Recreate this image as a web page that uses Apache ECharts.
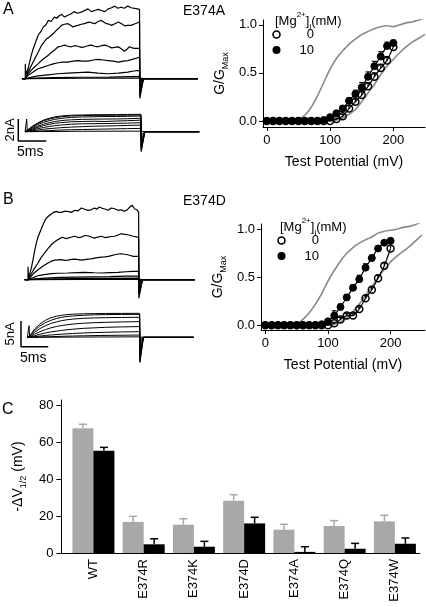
<!DOCTYPE html>
<html><head><meta charset="utf-8">
<script src="https://cdn.jsdelivr.net/npm/echarts@6/dist/echarts.min.js"></script>
<style>html,body{margin:0;padding:0;background:#fff}#c{width:426px;height:607px}</style>
</head><body><div id="c"></div>
<script>
// ---------- Panel A current traces (t in ms, I in nA) ----------
const A_TOP_1 = [[-0.6,0],[0,0],[0,1.36],[0.1,0.4],[0.5,0.9],[1.0,2.0],[1.4,2.7],[1.9,3.4],[2.3,3.95],[2.8,4.3],[3.2,4.7],[3.7,4.9],[4.1,5.3],[4.6,5.2],[5.2,5.6],[5.6,5.5],[6.1,5.75],[6.5,5.85],[7.0,5.6],[7.5,5.75],[8.2,5.9],[8.7,6.1],[9.3,5.95],[10.0,6.05],[10.6,6.2],[11.2,6.35],[11.8,6.1],[12.4,6.2],[13.0,6.3],[13.6,6.2],[14.2,6.1],[14.8,6.35],[15.4,6.45],[16.0,6.6],[16.5,6.4],[17.1,6.5],[17.7,6.4],[18.3,6.6],[18.9,6.45],[19.5,6.4],[20.0,6.35],[20.4,6.3]];
const A_TOP_2 = [[-0.6,0],[0,0],[0.48,0.6],[1.0,1.1],[1.67,1.8],[2.3,2.4],[2.86,3.0],[3.3,3.3],[3.76,3.6],[4.2,3.75],[4.65,3.95],[5.1,4.15],[5.54,4.4],[6.0,4.6],[6.43,4.85],[7.0,4.95],[7.63,5.0],[8.1,4.85],[8.52,4.7],[9.0,4.8],[9.4,4.85],[10.0,4.95],[10.6,5.0],[11.0,5.1],[11.5,5.15],[12.0,5.05],[12.4,5.0],[13.0,5.2],[13.6,5.3],[14.0,5.15],[14.5,5.0],[15.0,4.95],[15.4,4.85],[16.0,5.0],[16.6,5.15],[17.2,5.0],[17.7,4.8],[18.3,4.85],[18.9,4.85],[19.6,5.0],[20.4,5.15]];
const A_TOP_3 = [[-0.6,0],[0,0],[0.48,0.45],[1.3,0.9],[2.27,1.35],[3.1,1.75],[4.05,2.1],[4.7,2.4],[5.24,2.6],[5.84,2.9],[6.4,2.95],[7.0,3.05],[7.6,2.95],[8.2,2.9],[8.8,3.0],[9.4,2.95],[10.0,2.85],[10.6,2.9],[11.2,3.0],[11.8,3.05],[12.4,2.95],[13.0,2.9],[13.6,3.0],[14.2,3.05],[14.8,2.95],[15.4,2.8],[16.0,2.85],[16.6,2.9],[17.2,2.7],[17.7,2.5],[18.2,2.7],[18.6,2.9],[19.1,2.8],[19.5,2.75],[20.4,2.75]];
const A_TOP_4 = [[-0.6,0],[0,0],[0.48,0.3],[1.4,0.6],[2.27,0.9],[3.2,1.05],[4.05,1.2],[5.0,1.35],[5.84,1.45],[6.7,1.5],[7.6,1.5],[8.5,1.6],[9.4,1.65],[10.3,1.6],[11.2,1.6],[12.1,1.7],[13.0,1.75],[13.9,1.7],[14.8,1.65],[15.7,1.6],[16.6,1.5],[17.5,1.6],[18.3,1.65],[19.4,1.8],[20.4,1.95]];
const A_TOP_5 = [[-0.6,0],[0,0],[1.0,0.12],[2.27,0.25],[4.0,0.35],[5.8,0.45],[7.6,0.5],[9.4,0.55],[11.2,0.6],[13.0,0.5],[14.8,0.45],[16.6,0.5],[18.3,0.6],[19.4,0.7],[20.4,0.75]];
const A_TOP_6 = [[-0.6,0],[0,0],[2.0,0.06],[5.0,0.1],[10.0,0.13],[15.0,0.15],[20.4,0.22]];
const A_TOP_7 = [[-0.6,0],[0,0],[10,0.04],[20.4,0.06]];
const A_TOP_TAIL = [-1.8,-1.5,-1.0,-0.6,-0.3,-0.1,-0.05];

const A_BOT_1 = [[-0.3,0],[0,0],[0,1.15],[0.1,0.15],[0.5,0.3],[1,0.5],[2,0.8],[3,1.05],[4,1.22],[5,1.34],[6,1.42],[7,1.47],[8,1.5],[10,1.52],[12,1.54],[14,1.55],[16,1.55],[18,1.57],[20.4,1.58]];
const A_BOT_2 = [[-0.3,0],[0,0],[0.5,0.25],[1,0.45],[2,0.75],[3,0.98],[4,1.14],[5,1.26],[6,1.34],[7,1.4],[8,1.43],[10,1.46],[12,1.48],[14,1.49],[16,1.5],[18,1.5],[20.4,1.52]];
const A_BOT_3 = [[-0.3,0],[0,0],[0.5,0.2],[1,0.38],[2,0.65],[3,0.85],[4,1.0],[5,1.12],[6,1.2],[7,1.26],[8,1.3],[10,1.34],[12,1.36],[14,1.38],[16,1.38],[18,1.4],[20.4,1.42]];
const A_BOT_4 = [[-0.3,0],[0,0],[0.5,0.15],[1,0.3],[2,0.5],[3,0.68],[4,0.82],[5,0.92],[6,1.0],[7,1.05],[8,1.08],[10,1.12],[12,1.14],[14,1.15],[16,1.16],[18,1.18],[20.4,1.22]];
const A_BOT_5 = [[-0.3,0],[0,0],[0.5,0.12],[1,0.22],[2,0.4],[3,0.55],[4,0.67],[5,0.76],[6,0.82],[7,0.86],[8,0.9],[10,0.93],[12,0.95],[14,0.93],[16,0.97],[18,1.0],[20.4,1.05]];
const A_BOT_6 = [[-0.3,0],[0,0],[0.5,0.08],[1,0.15],[2,0.28],[3,0.38],[4,0.47],[5,0.55],[6,0.6],[7,0.64],[8,0.68],[10,0.72],[12,0.73],[14,0.74],[16,0.76],[18,0.78],[20.4,0.82]];
const A_BOT_7 = [[-0.3,0],[0,0],[1,0.08],[2,0.15],[3,0.22],[4,0.28],[6,0.36],[8,0.42],[10,0.46],[12,0.5],[14,0.52],[16,0.54],[18,0.57],[20.4,0.6]];
const A_BOT_8 = [[-0.3,0],[0,0],[2,0.05],[4,0.1],[6,0.15],[8,0.18],[10,0.2],[14,0.24],[18,0.28],[20.4,0.3]];
const A_BOT_9 = [[-0.3,0],[0,0],[10,0.04],[20.4,0.05]];
const A_BOT_TAIL = [-1.8,-1.7,-1.6,-1.4,-1.2,-0.9,-0.6,-0.3,-0.1];
const A_SCALE = [[-1.5,1.15],[-1.5,-0.85],[3.5,-0.85]]; // 2 nA, 5 ms

// ---------- Panel B current traces ----------
const B_TOP_1 = [[-0.6,0],[0,0],[0,2.5],[0.1,0.3],[0.31,0.65],[0.6,2.2],[0.92,3.9],[1.2,5.5],[1.53,7.1],[1.8,8.2],[2.14,9.1],[2.45,9.9],[2.75,10.7],[3.05,11.4],[3.36,12.0],[3.8,12.4],[4.28,12.8],[4.7,13.1],[5.2,13.3],[5.6,13.1],[6.1,13.1],[6.7,13.3],[7.3,13.3],[7.9,13.1],[8.6,13.5],[9.2,13.4],[9.8,13.95],[10.4,13.7],[11.0,13.5],[11.6,13.6],[12.2,13.95],[12.6,13.7],[13.1,14.15],[13.6,13.9],[14.1,13.75],[14.7,13.5],[15.3,13.95],[15.9,13.8],[16.5,13.5],[17.1,13.6],[17.7,13.3],[18.2,13.6],[18.7,14.15],[19.1,14.5],[19.6,13.75],[20.0,13.6],[20.3,13.1]];
const B_TOP_2 = [[-0.6,0],[0,0],[0.31,0.33],[1.0,1.9],[1.84,3.25],[2.4,4.3],[3.06,5.2],[3.7,6.1],[4.28,6.8],[4.9,7.4],[5.5,7.8],[6.0,8.1],[6.4,8.25],[6.9,8.0],[7.3,8.1],[8.0,8.3],[8.6,8.45],[9.2,8.2],[9.8,8.3],[10.4,8.6],[11.0,8.55],[11.6,8.3],[12.2,8.1],[12.8,8.3],[13.5,8.45],[14.1,8.2],[14.7,8.3],[15.3,8.4],[15.9,8.45],[16.5,8.7],[17.1,8.95],[17.7,8.8],[18.3,8.75],[18.8,8.6],[19.3,8.45],[20.3,8.25]];
const B_TOP_3 = [[-0.6,0],[0,0],[0.31,0.33],[1.0,1.2],[1.84,1.95],[2.7,2.6],[3.67,3.25],[4.3,3.6],[4.9,3.8],[5.5,3.85],[6.1,3.9],[6.7,3.75],[7.3,3.8],[8.0,3.95],[8.6,4.0],[9.2,3.9],[9.8,3.8],[10.4,3.9],[11.0,4.0],[11.6,4.05],[12.2,4.2],[12.8,4.3],[13.5,4.4],[14.1,4.45],[14.7,4.55],[15.3,4.7],[15.9,4.85],[16.5,5.0],[17.1,5.05],[17.7,4.95],[18.3,4.85],[18.8,4.7],[19.3,4.55],[20.3,4.55]];
const B_TOP_4 = [[-0.6,0],[0,0],[0.5,0.2],[1.84,0.78],[3.0,1.0],[4.28,1.17],[5.5,1.25],[7.3,1.3],[9.0,1.38],[10.5,1.43],[12.2,1.35],[13.5,1.3],[15.0,1.38],[16.5,1.43],[18.0,1.55],[19.2,1.63],[20.3,1.63]];
const B_TOP_5 = [[-0.6,0],[0,0],[1.0,0.12],[3,0.3],[6,0.45],[9,0.5],[12,0.55],[15,0.6],[18,0.7],[20.3,0.72]];
const B_TOP_6 = [[-0.6,0],[0,0],[3,0.1],[8,0.2],[14,0.25],[20.3,0.3]];
const B_TOP_7 = [[-0.6,0],[0,0],[10,0.05],[20.3,0.08]];
const B_TOP_TAIL = [-3.6,-2.8,-2.0,-1.2,-0.6,-0.3,-0.1];

const B_BOT_1 = [[-0.3,0],[0,0],[0,2.26],[0.1,0.3],[0.5,0.8],[1,1.6],[2,2.6],[3,3.3],[4,3.8],[5,4.1],[6,4.3],[7,4.42],[8,4.5],[10,4.58],[12,4.62],[14,4.65],[17,4.66],[20.3,4.67]];
const B_BOT_2 = [[-0.3,0],[0,0],[0.5,0.65],[1,1.3],[2,2.2],[3,2.85],[4,3.3],[5,3.65],[6,3.9],[7,4.05],[8,4.15],[10,4.3],[12,4.38],[14,4.42],[17,4.45],[20.3,4.47]];
const B_BOT_3 = [[-0.3,0],[0,0],[0.5,0.5],[1,0.95],[2,1.7],[3,2.25],[4,2.7],[5,3.0],[6,3.25],[7,3.42],[8,3.55],[10,3.7],[12,3.78],[14,3.83],[17,3.87],[20.3,3.9]];
const B_BOT_4 = [[-0.3,0],[0,0],[0.5,0.3],[1,0.6],[2,1.1],[3,1.5],[4,1.85],[5,2.1],[6,2.3],[7,2.45],[8,2.58],[10,2.75],[12,2.85],[14,2.92],[17,3.0],[20.3,3.05]];
const B_BOT_5 = [[-0.3,0],[0,0],[1,0.3],[2,0.6],[3,0.85],[4,1.05],[5,1.2],[6,1.35],[7,1.48],[8,1.58],[10,1.75],[12,1.85],[14,1.95],[17,2.03],[20.3,2.1]];
const B_BOT_6 = [[-0.3,0],[0,0],[1,0.12],[2,0.25],[3,0.36],[4,0.46],[6,0.62],[8,0.75],[10,0.85],[12,0.93],[14,0.98],[17,1.05],[20.3,1.1]];
const B_BOT_7 = [[-0.3,0],[0,0],[2,0.06],[4,0.13],[6,0.2],[8,0.26],[10,0.3],[13,0.36],[16,0.4],[20.3,0.45]];
const B_BOT_8 = [[-0.3,0],[0,0],[10,0.06],[20.3,0.1]];
const B_BOT_TAIL = [-4.9,-4.5,-3.8,-3.0,-2.0,-1.1,-0.5,-0.1];
const B_SCALE = [[-1.47,3.17],[-1.47,-1.83],[3.53,-1.83]]; // 5 nA, 5 ms

// ---------- G/Gmax data (test potential, mV) ----------
const VOLT = [0,10,20,30,40,50,60,70,80,90,100,110,120,130,140,150,160,170,180,190,200];
const A_MG0  = [0,0,0,0,0,0,0,0,0,0,0.0,0.02,0.05,0.13,0.2,0.27,0.36,0.46,0.55,0.63,0.77];
const A_MG10 = [0,0,0,0,0,0,0,0,0,0.01,0.04,0.08,0.13,0.21,0.28,0.35,0.46,0.57,0.67,0.78,0.81];
const A_MG0_ERR  = [0,0,0,0,0,0,0,0,0,0,0.01,0.01,0.02,0.03,0.03,0.04,0.04,0.04,0.04,0.04,0.03];
const A_MG10_ERR = [0,0,0,0,0,0,0,0,0,0,0.01,0.02,0.03,0.03,0.04,0.05,0.05,0.05,0.05,0.04,0.03];
const B_MG0  = [0,0,0,0,0,0,0,0,0,0,0.0,0.02,0.06,0.1,0.1,0.17,0.28,0.37,0.49,0.62,0.8];
const B_MG10 = [0,0,0,0,0,0,0,0,0,0.01,0.04,0.1,0.19,0.29,0.39,0.48,0.6,0.7,0.8,0.86,0.88];
const B_MG0_ERR  = [0,0,0,0,0,0,0,0,0,0,0.01,0.01,0.02,0.02,0.02,0.02,0.03,0.03,0.03,0.03,0.03];
const B_MG10_ERR = [0,0,0,0,0,0,0,0,0,0,0.01,0.05,0.03,0.03,0.03,0.04,0.04,0.03,0.02,0.02,0.02];

// WT reference curves (grey)
const WT_VOLT = [0,20,40,50,60,70,80,90,100,110,120,130,140,150,160,170,180,190,200,210,220,230,240,250];
const A_WT0  = [0,0,0.005,0.02,0.06,0.14,0.26,0.4,0.54,0.65,0.73,0.8,0.85,0.9,0.93,0.96,0.98,0.99,0.98,1.0,1.02,1.03,1.05,1.07];
const A_WT10 = [0,0,0,0,0,0,0,0,0,0.01,0.03,0.07,0.12,0.2,0.29,0.38,0.48,0.57,0.64,0.71,0.77,0.82,0.86,0.9];
const B_WT0  = [0,0,0.005,0.015,0.06,0.13,0.22,0.33,0.46,0.57,0.67,0.75,0.81,0.855,0.89,0.92,0.96,0.98,0.99,1.0,1.02,1.03,1.05,1.08];
const B_WT10 = [0,0,0,0,0,0,0,0,0,0.01,0.035,0.08,0.14,0.22,0.31,0.4,0.5,0.58,0.66,0.72,0.77,0.82,0.88,0.94];

// ---------- Panel C ----------
const CATS = ['WT','E374R','E374K','E374D','E374A','E374Q','E374W'];
const DV_MG0 = [67.4,16.8,15.3,28.3,12.6,14.6,17.1];
const DV_MG0_ERR = [2.2,3.0,3.2,3.2,2.9,2.9,3.3];
const DV_MG10 = [55.3,4.7,3.4,16.0,0.6,2.3,5.0];
const DV_MG10_ERR = [1.8,3.0,2.9,3.3,2.8,2.9,3.1];

const FONT = '"Liberation Sans", Arial, Helvetica, sans-serif';
const chart = echarts.init(document.getElementById('c'), null, {renderer:'canvas'});

function traceSeries(list, tails, tEnd, tStop, gi, w){
  return list.map((pts,k)=>({
    type:'line', xAxisIndex:gi, yAxisIndex:gi, symbol:'none', silent:true, animation:false,
    data: pts.concat([[tEnd+0.05, tails[k]],[tEnd+0.7, 0],[tStop, 0]]),
    lineStyle:{color:'#000', width:w}
  }));
}
function scaleSeries(pts, gi){
  return {type:'line', xAxisIndex:gi, yAxisIndex:gi, symbol:'none', silent:true, animation:false, data:pts, lineStyle:{color:'#000', width:1.5}};
}
function hiddenAxes(ymin, ymax, gi){
  return [{type:'value', gridIndex:gi, min:-3, max:33, show:false},
          {type:'value', gridIndex:gi, min:ymin, max:ymax, show:false}];
}
const axisTxt = {color:'#000', fontSize:13, fontFamily:FONT};
function gX(gi, min, max){
  return {type:'value', gridIndex:gi, min, max,
    axisLine:{show:true, onZero:false, lineStyle:{color:'#000', width:1}},
    axisTick:{show:true, customValues:[0,100,200], length:4, lineStyle:{color:'#000'}},
    axisLabel:Object.assign({customValues:[0,100,200], margin:7}, axisTxt),
    splitLine:{show:false},
    name:'Test Potential (mV)', nameLocation:'middle', nameGap:28,
    nameTextStyle:{color:'#000', fontSize:14, fontFamily:FONT}};
}
function gY(gi, min, max){
  return {type:'value', gridIndex:gi, min, max,
    axisLine:{show:true, onZero:false, lineStyle:{color:'#000', width:1}},
    axisTick:{show:true, customValues:[0,0.5,1], length:4, lineStyle:{color:'#000'}},
    axisLabel:Object.assign({customValues:[0,0.5,1], margin:6, formatter:v=>v.toFixed(1)}, axisTxt),
    splitLine:{show:false},
    name:'G/G{s|Max}', nameLocation:'middle', nameRotate:90, nameGap:33,
    nameTextStyle:{color:'#000', fontSize:14, fontFamily:FONT, lineHeight:20,
      rich:{s:{fontSize:9, fontFamily:FONT, color:'#000', verticalAlign:'bottom', lineHeight:20}}}};
}
function gSeries(gi, mg0, mg10, e0, e10, wt0, wt10){
  const errRender = (params, api)=>{
    const x=api.value(0), y=api.value(1), e=api.value(2);
    if(!e) return null;
    const p0=api.coord([x,y]), p1=api.coord([x,y+e]);
    return {type:'group', children:[
      {type:'line', shape:{x1:p0[0],y1:p0[1],x2:p1[0],y2:p1[1]}, style:{stroke:'#000', lineWidth:1.2}},
      {type:'line', shape:{x1:p1[0]-2.5,y1:p1[1],x2:p1[0]+2.5,y2:p1[1]}, style:{stroke:'#000', lineWidth:1.2}}]};
  };
  const grey = {color:'#8a8a8a', width:1.6};
  return [
    {type:'line', xAxisIndex:gi, yAxisIndex:gi, symbol:'none', smooth:0.3, silent:true, animation:false, lineStyle:grey, data:WT_VOLT.map((v,i)=>[v,wt0[i]]), z:1},
    {type:'line', xAxisIndex:gi, yAxisIndex:gi, symbol:'none', smooth:0.3, silent:true, animation:false, lineStyle:grey, data:WT_VOLT.map((v,i)=>[v,wt10[i]]), z:1},
    {type:'custom', xAxisIndex:gi, yAxisIndex:gi, renderItem:errRender, silent:true, animation:false, data:VOLT.map((v,i)=>[v,mg0[i],e0[i]]), z:2},
    {type:'custom', xAxisIndex:gi, yAxisIndex:gi, renderItem:errRender, silent:true, animation:false, data:VOLT.map((v,i)=>[v,mg10[i],e10[i]]), z:2},
    {type:'line', xAxisIndex:gi, yAxisIndex:gi, symbol:'circle', symbolSize:7, smooth:0.2, silent:true, animation:false,
      lineStyle:{color:'#000', width:1.2}, itemStyle:{color:'rgba(255,255,255,0)', borderColor:'#000', borderWidth:1.5},
      data:VOLT.map((v,i)=>[v,mg0[i]]), z:3},
    {type:'line', xAxisIndex:gi, yAxisIndex:gi, symbol:'circle', symbolSize:7, smooth:0.2, silent:true, animation:false,
      lineStyle:{color:'#000', width:1.2}, itemStyle:{color:'#000', borderColor:'#000', borderWidth:1},
      data:VOLT.map((v,i)=>[v,mg10[i]]), z:4}
  ];
}
function barErr(vals, errs, dx, color){
  return {type:'custom', xAxisIndex:6, yAxisIndex:6, silent:true, animation:false, z:5,
    data:CATS.map((c,i)=>[i, vals[i], errs[i]]),
    renderItem:(params, api)=>{
      const p0=api.coord([api.value(0), api.value(1)]), p1=api.coord([api.value(0), api.value(1)+api.value(2)]);
      const x=p0[0]+dx;
      return {type:'group', children:[
        {type:'line', shape:{x1:x,y1:p0[1],x2:x,y2:p1[1]}, style:{stroke:color, lineWidth:1.5}},
        {type:'line', shape:{x1:x-4,y1:p1[1],x2:x+4,y2:p1[1]}, style:{stroke:color, lineWidth:1.5}}]};
    }};
}

const hA0 = hiddenAxes(-2.5, 7, 0), hA1 = hiddenAxes(-2.5, 2.5, 1);
const hB0 = hiddenAxes(-5, 15, 3), hB1 = hiddenAxes(-6, 6, 4);

const xAxes = [hA0[0], hA1[0], gX(2,-6,250), hB0[0], hB1[0], gX(5,-7,255),
  {type:'value', gridIndex:6, min:-0.638, max:6.5,
   axisLine:{show:true, onZero:false, lineStyle:{color:'#000', width:1}}, axisTick:{show:false}, splitLine:{show:false},
   axisLabel:Object.assign({customValues:[0,1,2,3,4,5,6], rotate:90, margin:6, formatter:v=>CATS[Math.round(v)]}, axisTxt)}];
const yAxes = [hA0[1], hA1[1], gY(2,-0.0625,1.05), hB0[1], hB1[1], gY(5,-0.05,1.055),
  {type:'value', gridIndex:6, min:0, max:82.7,
   axisLine:{show:true, onZero:false, lineStyle:{color:'#000', width:1}},
   axisTick:{show:true, customValues:[0,20,40,60,80], length:5, lineStyle:{color:'#000'}},
   axisLabel:Object.assign({customValues:[0,20,40,60,80], margin:8}, axisTxt), splitLine:{show:false},
   name:'-ΔV{s|1/2} (mV)', nameLocation:'middle', nameRotate:90, nameGap:32,
   nameTextStyle:{color:'#000', fontSize:14, fontFamily:FONT, lineHeight:20,
     rich:{s:{fontSize:9, fontFamily:FONT, color:'#000', verticalAlign:'bottom', lineHeight:20}}}}];

const series = [].concat(
  traceSeries([A_TOP_1,A_TOP_2,A_TOP_3,A_TOP_4,A_TOP_5,A_TOP_6,A_TOP_7], A_TOP_TAIL, 20.4, 30.8, 0, 1.2),
  traceSeries([A_BOT_1,A_BOT_2,A_BOT_3,A_BOT_4,A_BOT_5,A_BOT_6,A_BOT_7,A_BOT_8,A_BOT_9], A_BOT_TAIL, 20.4, 30.8, 1, 1),
  [scaleSeries(A_SCALE, 1)],
  traceSeries([B_TOP_1,B_TOP_2,B_TOP_3,B_TOP_4,B_TOP_5,B_TOP_6,B_TOP_7], B_TOP_TAIL, 20.3, 30.6, 3, 1.2),
  traceSeries([B_BOT_1,B_BOT_2,B_BOT_3,B_BOT_4,B_BOT_5,B_BOT_6,B_BOT_7,B_BOT_8], B_BOT_TAIL, 20.3, 30.2, 4, 1),
  [scaleSeries(B_SCALE, 4)],
  gSeries(2, A_MG0, A_MG10, A_MG0_ERR, A_MG10_ERR, A_WT0, A_WT10),
  gSeries(5, B_MG0, B_MG10, B_MG0_ERR, B_MG10_ERR, B_WT0, B_WT10),
  [
    {type:'bar', xAxisIndex:6, yAxisIndex:6, barWidth:21, barGap:'0%', silent:true, animation:false,
     itemStyle:{color:'#a8a8a8'}, data:CATS.map((c,i)=>[i, DV_MG0[i]])},
    {type:'bar', xAxisIndex:6, yAxisIndex:6, barWidth:21, barGap:'0%', silent:true, animation:false,
     itemStyle:{color:'#000'}, data:CATS.map((c,i)=>[i, DV_MG10[i]])},
    barErr(DV_MG0, DV_MG0_ERR, -10.5, '#a8a8a8'),
    barErr(DV_MG10, DV_MG10_ERR, 10.5, '#000')
  ]
);

function txt(x, y, text, size, extra){
  return Object.assign({type:'text', x, y, silent:true,
    style:{text, fill:'#000', fontSize:size, fontFamily:FONT, align:'left', verticalAlign:'middle'}}, extra||{});
}
function legendBlock(x, y){
  return [
    {type:'text', x:x, y:y, silent:true, style:{text:'[Mg{sup|2+}]{sub|i}(mM)', fill:'#000', fontSize:13, fontFamily:FONT, verticalAlign:'middle',
      rich:{sup:{fontSize:8, fontFamily:FONT, verticalAlign:'top', lineHeight:20}, sub:{fontSize:8, fontFamily:FONT, verticalAlign:'bottom', lineHeight:20}}}},
    {type:'circle', shape:{cx:x+1.5, cy:y+13.5, r:3.5}, silent:true, style:{fill:'#fff', stroke:'#000', lineWidth:1.6}},
    {type:'circle', shape:{cx:x+1.5, cy:y+29, r:4}, silent:true, style:{fill:'#000'}},
    {type:'text', x:x+39, y:y+13.5, silent:true, style:{text:'0', fill:'#000', fontSize:13, fontFamily:FONT, align:'right', verticalAlign:'middle'}},
    {type:'text', x:x+39, y:y+29, silent:true, style:{text:'10', fill:'#000', fontSize:13, fontFamily:FONT, align:'right', verticalAlign:'middle'}}
  ];
}
const graphics = [
  txt(3, 10, 'A', 16), txt(183, 11, 'E374A', 14),
  txt(3, 200, 'B', 16), txt(183, 201, 'E374D', 14),
  txt(2, 410, 'C', 16),
  txt(10, 130, '2nA', 13, {rotation:Math.PI/2, style:{text:'2nA', fill:'#000', fontSize:13, fontFamily:FONT, align:'center', verticalAlign:'middle'}}),
  txt(17, 152, '5ms', 14),
  txt(10, 334, '5nA', 13, {rotation:Math.PI/2, style:{text:'5nA', fill:'#000', fontSize:13, fontFamily:FONT, align:'center', verticalAlign:'middle'}}),
  txt(20, 358, '5ms', 14)
].concat(legendBlock(275, 21), legendBlock(280, 227));

chart.setOption({
  animation:false,
  backgroundColor:'#fff',
  grid:[
    {left:8.5, top:1.7, width:201.6, height:104.5},
    {left:9.9, top:104.2, width:201.6, height:55},
    {left:263, top:20, width:162, height:107},
    {left:11.65, top:202.6, width:196.2, height:102.8},
    {left:12.65, top:306.5, width:196.2, height:61.7},
    {left:261, top:224, width:164, height:106},
    {left:51, top:400, width:369, height:153}
  ],
  xAxis:xAxes, yAxis:yAxes, series, graphic:graphics
});
</script></body></html>
